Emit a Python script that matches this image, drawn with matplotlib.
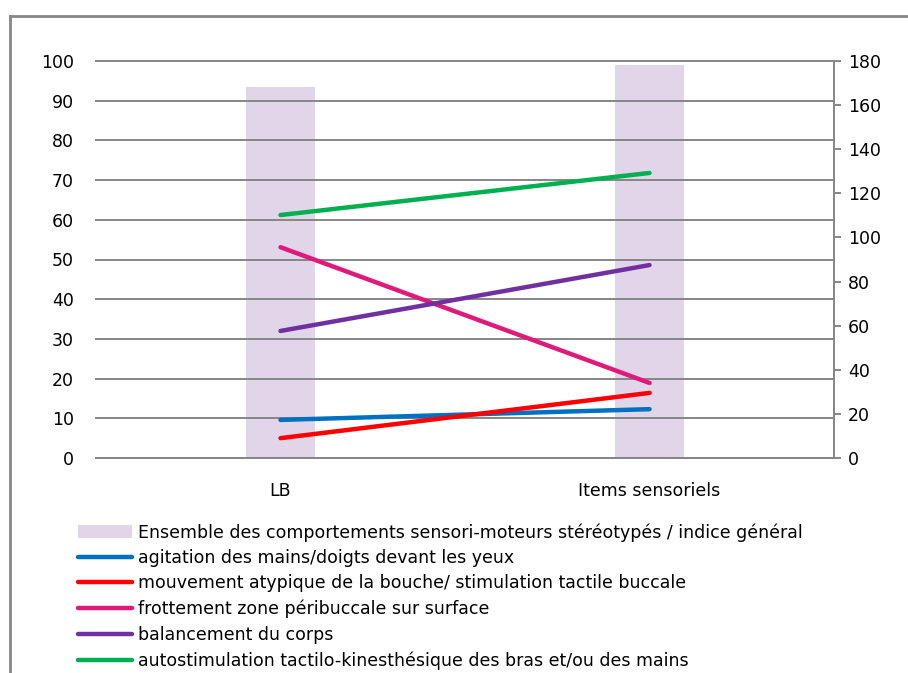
import matplotlib.pyplot as plt
from matplotlib.lines import Line2D

plt.rcParams['font.family'] = ['DejaVu Sans']

categories = ["LB", "Items sensoriels"]
ensemble = [168, 178]  # axe de droite
ensemble_label = "Ensemble des comportements sensori-moteurs stéréotypés / indice général"

series_labels = [
    "agitation des mains/doigts devant les yeux",
    "mouvement atypique de la bouche/ stimulation tactile buccale",
    "frottement zone péribuccale sur surface",
    "balancement du corps",
    "autostimulation tactilo-kinesthésique des bras et/ou des mains",
]
agitation = [9.6, 12.3]
bouche = [5.0, 16.4]
frottement = [53.1, 18.9]
balancement = [32.0, 48.6]
autostim = [61.2, 71.8]
series_values = [agitation, bouche, frottement, balancement, autostim]
series_colors = ["#0070C0", "#FF0000", "#E0197B", "#7030A0", "#00B050"]

grey = "#868686"
fs = 12.5

fig = plt.figure(figsize=(9.08, 6.73), dpi=100)
ax = fig.add_axes([96 / 908, 1 - 458 / 673, (834 - 96) / 908, (458 - 61) / 673])
ax2 = ax.twinx()
ax.set_zorder(ax2.get_zorder() + 1)
ax.patch.set_visible(False)

x = range(len(categories))
bars = ax2.bar(x, ensemble, width=0.187, color="#E1D5EA", zorder=1)
ax2.set_ylim(0, 180)
ax2.set_yticks(range(0, 181, 20))

handles = [bars]
for vals, col, lab in zip(series_values, series_colors, series_labels):
    h, = ax.plot(x, vals, color=col, lw=3.2, solid_capstyle="round", zorder=3)
    handles.append(h)

ax.set_xlim(-0.5, 1.5)
ax.set_ylim(0, 100)
ax.set_yticks(range(0, 101, 10))
ax.set_xticks(list(x))
ax.set_xticklabels(categories)
ax.yaxis.grid(True, color=grey, lw=1.4, zorder=2)
ax.set_axisbelow(False)
for gl in ax.get_ygridlines():
    gl.set_clip_on(False)

for a in (ax, ax2):
    a.spines["top"].set_visible(False)
    a.spines["left"].set_visible(False)
    a.spines["right"].set_visible(False)
    a.spines["bottom"].set_color(grey)
    a.spines["bottom"].set_linewidth(1.4)
ax2.spines["right"].set_visible(True)
ax2.spines["right"].set_color(grey)
ax2.spines["right"].set_linewidth(1.4)

ax.tick_params(axis="y", length=0, pad=16, labelsize=fs)
ax.tick_params(axis="x", length=0, pad=17, labelsize=fs)
ax2.tick_params(axis="y", length=5, width=1.4, color=grey, direction="out", pad=5, labelsize=fs)

labels = [ensemble_label] + series_labels
fig.legend(handles, labels, loc="upper left", bbox_to_anchor=(78 / 908, 1 - 523 / 673),
           frameon=False, fontsize=fs, handlelength=3.1, handletextpad=0.35,
           labelspacing=0.43, borderaxespad=0, borderpad=0)

# cadre extérieur
fig.add_artist(Line2D([10 / 908, 10 / 908], [0, 1 - 16 / 673], transform=fig.transFigure, color=grey, lw=2))
fig.add_artist(Line2D([10 / 908, 1], [1 - 16 / 673, 1 - 16 / 673], transform=fig.transFigure, color=grey, lw=2))

fig.savefig("out.png", dpi=100)
